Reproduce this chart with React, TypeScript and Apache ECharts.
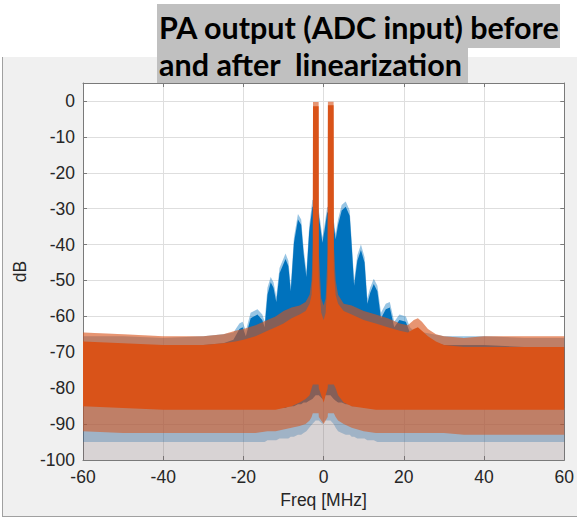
import React, { useEffect, useRef } from "react";
import * as echarts from "echarts";

// ---------- data ----------
const X_MIN = -60;
const X_MAX = 60;
const Y_MIN = -100;
const Y_MAX = 5;
const FLOOR = -100;

const TITLE_LINES = ["PA output (ADC input) before", "and after  linearization"];
const X_NAME = "Freq [MHz]";
const Y_NAME = "dB";

// "after linearization" trace (orange) envelopes
const ORANGE_F = [
  -60, -50, -40, -30, -25, -22, -20, -17, -14, -12,
  -10, -8, -6, -4.5, -3.5, -3.0, -2.7, -2.65, -1.25, -1.2,
  -0.6, 0, 0.5, 1.0, 1.07, 2.48, 2.55, 3.0, 3.6, 5,
  7, 10, 13, 16, 19, 21, 22.5, 23.5, 24.5, 26,
  28, 30, 35, 40, 50, 60,
];
const ORANGE_SPIKE_HI = [
  -64.5, -65, -65.5, -65.5, -65, -64, -63.5, -62.5, -61, -60,
  -58.5, -57.5, -57, -56, -54, -50, -40, -0.3, -0.3, -42,
  -55, -57, -55, -42, -0.2, -0.2, -40, -50, -54, -56.5,
  -57, -58.5, -59.5, -60.5, -62, -62.5, -61, -60.5, -61.5, -63.5,
  -65, -65.5, -66, -65.5, -65.5, -65.5,
];
const ORANGE_DENSE_HI = [
  -67, -67.5, -68, -68, -67.5, -67, -66.5, -65.5, -64, -63,
  -62, -60.5, -59.5, -58.5, -56.5, -54, -47, -1.5, -1.5, -49,
  -59, -61, -59, -49, -1.2, -1.2, -47, -54, -56.5, -58.5,
  -59.5, -61, -62, -63, -64, -64.5, -63.5, -63, -64, -65.5,
  -67, -68, -68.5, -68.5, -68.5, -68.5,
];
const ORANGE_DENSE_LO = [
  -85, -85.5, -86, -86, -86, -86, -86, -86, -86, -86,
  -85.5, -85, -84, -83, -82, -80, -79, -79, -79, -80,
  -82, -84, -82, -80, -79, -79, -79, -80, -82, -84,
  -85, -85.5, -86, -86, -86, -86, -86, -86, -86, -86,
  -86, -86, -86, -86, -86, -86,
];
const ORANGE_SPIKE_LO = [
  -92, -92.5, -92.5, -92.5, -92.5, -92.5, -92.5, -92.5, -92, -92,
  -91.5, -91, -90.5, -90, -89, -88, -87, -87, -87, -88,
  -89, -90, -89, -88, -87, -87, -87, -88, -89, -90,
  -91, -92, -92.5, -92.5, -92.5, -92.5, -92.5, -92.5, -92.5, -92.5,
  -92.5, -92.5, -93, -93, -93, -93,
];

// "before linearization" trace (blue) envelopes
const BLUE_F = [
  -60, -50, -40, -30, -25, -22.5, -21, -20.2, -19.4, -18.2,
  -16.5, -15.3, -14.7, -14, -13.2, -12.5, -11.8, -11, -9.5, -8.8,
  -8.2, -7.4, -6.4, -5.6, -5, -4.3, -3.6, -2.8, -2.0, -1.2,
  -0.3, 0.3, 0.9, 1.7, 2.5, 3.0, 3.6, 4.5, 5.5, 6.5,
  7.0, 7.6, 8.4, 9.3, 10.2, 10.9, 11.6, 12.5, 13.4, 14.3,
  15.5, 16.5, 17.6, 18.9, 20.5, 21.5, 22.5, 25, 30, 40,
  50, 60,
];
const BLUE_SPIKE_HI = [
  -65.5, -65.5, -66, -65.5, -65, -64.5, -62, -61.5, -64, -59,
  -58, -59.5, -61.5, -52, -49, -50.5, -54.5, -46.5, -42.5, -44.5,
  -51.5, -38, -31.5, -33, -41, -47.5, -35, -27.5, -28, -30.5,
  -38, -34, -29.5, -30, -33, -37, -33, -29, -28, -30.5,
  -39, -50, -43, -40, -43.5, -55, -52, -49.5, -51.5, -59,
  -56.5, -56, -61.5, -59.5, -60, -63, -64, -64.5, -65.5, -65.5,
  -66, -66,
];
const BLUE_DENSE_HI = [
  -68, -68, -68.5, -68, -67.5, -66.5, -63.5, -63, -65.5, -60.5,
  -59.5, -61, -63, -54, -50.5, -52, -56, -48, -44, -46,
  -53, -39.5, -33, -34.5, -42.5, -49, -36.5, -29.5, -29.5, -32,
  -39.5, -35.5, -31, -31.5, -34.5, -38.5, -34.5, -30.5, -29.5, -32,
  -40.5, -51.5, -44.5, -41.5, -45, -56.5, -53.5, -51, -53, -60.5,
  -58, -57.5, -63, -61, -61.5, -64.5, -65.5, -66.5, -68, -68,
  -68.5, -68.5,
];
const BLUE_DENSE_LO = [
  -84.5, -85, -85.5, -85.5, -85.5, -85.5, -85.5, -85.5, -85.5, -85.5,
  -85.5, -85.5, -85.5, -85.5, -85.5, -85.5, -85.5, -85.5, -85.5, -85,
  -85, -85, -84.5, -84.5, -84, -84, -83.5, -83, -82, -82,
  -83, -82, -82, -82, -83, -83.5, -84, -84, -84.5, -84.5,
  -85, -85, -85, -85, -85.5, -85.5, -85.5, -85.5, -85.5, -85.5,
  -85.5, -85.5, -85.5, -85.5, -85.5, -85.5, -85.5, -85.5, -85.5, -85.5,
  -85.5, -85.5,
];
const BLUE_SPIKE_LO = [
  -95, -95, -95, -95, -95, -95, -95, -95, -95, -95,
  -95, -95, -95, -94.5, -94.5, -94.5, -94.5, -94, -94, -94,
  -93.5, -93.5, -93, -93, -92.5, -92, -91, -90, -89, -89,
  -90, -89, -89, -89, -90, -91, -92, -92.5, -93, -93,
  -93.5, -93.5, -94, -94, -94, -94.5, -94.5, -94.5, -95, -95,
  -95, -95, -95, -95, -95, -95, -95, -95, -95, -95,
  -95, -95,
];

const BLUE = "#0072BD";
const ORANGE = "#D95319";
const AXIS_COLOR = "#7a7a7a";
const TEXT_COLOR = "#262626";
const GRID_COLOR = "#dedede";
const FONT = "Liberation Sans, Arial, sans-serif";

// A band between two envelopes, drawn as one polygon through the axis scales.
function bandSeries(
  id: string,
  freq: number[],
  lo: number[],
  hi: number[],
  color: string,
  opacity: number
) {
  const data = freq.map((f, i) => [f, lo[i], hi[i]]);
  return {
    id,
    type: "custom",
    data,
    encode: { x: 0, y: [1, 2] },
    clip: true,
    silent: true,
    renderItem: (params: any, api: any) => {
      if (params.dataIndex !== 0) return null;
      const top = data.map((d) => api.coord([d[0], d[2]]));
      const bottom = data.map((d) => api.coord([d[0], d[1]])).reverse();
      return {
        type: "polygon",
        shape: { points: top.concat(bottom) },
        style: { fill: color, opacity, stroke: null },
      };
    },
  };
}

export default function App() {
  const ref = useRef<HTMLDivElement>(null);

  useEffect(() => {
    if (!ref.current) return;
    const chart = echarts.init(ref.current, undefined, { renderer: "svg" });

    const floorB = BLUE_F.map(() => FLOOR);
    const floorO = ORANGE_F.map(() => FLOOR);

    const series: any[] = [
      bandSeries("blueFloor", BLUE_F, floorB, BLUE_SPIKE_HI, BLUE, 0.15),
      bandSeries("blueSpike", BLUE_F, BLUE_SPIKE_LO, BLUE_SPIKE_HI, BLUE, 0.3),
      bandSeries("blueDense", BLUE_F, BLUE_DENSE_LO, BLUE_DENSE_HI, BLUE, 1),
      bandSeries("orangeFloor", ORANGE_F, floorO, ORANGE_SPIKE_HI, ORANGE, 0.15),
      bandSeries("orangeSpike", ORANGE_F, ORANGE_SPIKE_LO, ORANGE_SPIKE_HI, ORANGE, 0.55),
      bandSeries("orangeDense", ORANGE_F, ORANGE_DENSE_LO, ORANGE_DENSE_HI, ORANGE, 1),
    ];

    const tickStyle = { show: true, inside: true, length: 4, lineStyle: { color: AXIS_COLOR } };
    const lineStyle = { show: true, onZero: false, lineStyle: { color: AXIS_COLOR, width: 1 } };

    chart.setOption({
      animation: false,
      backgroundColor: "#ffffff",
      grid: {
        left: 83,
        right: 10,
        top: 83,
        bottom: 60,
        show: true,
        backgroundColor: "#ffffff",
        borderWidth: 0,
      },
      xAxis: [
        {
          type: "value",
          min: X_MIN,
          max: X_MAX,
          interval: 20,
          position: "bottom",
          axisLine: lineStyle,
          axisTick: tickStyle,
          axisLabel: { color: TEXT_COLOR, fontSize: 17.5, fontFamily: FONT, margin: 8 },
          splitLine: { show: true, lineStyle: { color: GRID_COLOR, width: 1 } },
          name: X_NAME,
          nameLocation: "middle",
          nameGap: 30,
          nameTextStyle: { color: TEXT_COLOR, fontSize: 17.5, fontFamily: FONT },
        },
        {
          type: "value",
          min: X_MIN,
          max: X_MAX,
          interval: 20,
          position: "top",
          axisLine: lineStyle,
          axisTick: tickStyle,
          axisLabel: { show: false },
          splitLine: { show: false },
        },
      ],
      yAxis: [
        {
          type: "value",
          min: Y_MIN,
          max: Y_MAX,
          interval: 10,
          position: "left",
          axisLine: lineStyle,
          axisTick: tickStyle,
          axisLabel: {
            color: TEXT_COLOR,
            fontSize: 17.5,
            fontFamily: FONT,
            margin: 8,
            formatter: (v: number) => (v > 0 ? "" : String(v)),
          },
          splitLine: { show: true, lineStyle: { color: GRID_COLOR, width: 1 } },
          name: Y_NAME,
          nameLocation: "middle",
          nameGap: 40,
          nameTextStyle: { color: TEXT_COLOR, fontSize: 17.5, fontFamily: FONT },
        },
        {
          type: "value",
          min: Y_MIN,
          max: Y_MAX,
          interval: 10,
          position: "right",
          axisLine: lineStyle,
          axisTick: tickStyle,
          axisLabel: { show: false },
          splitLine: { show: false },
        },
      ],
      graphic: {
        elements: [
          {
            type: "rect",
            z: -100,
            shape: { x: 2, y: 57, width: 575, height: 459 },
            style: { fill: "#f0f0f0" },
            silent: true,
          },
          {
            type: "line",
            z: -99,
            shape: { x1: 2.5, y1: 57, x2: 2.5, y2: 516.5 },
            style: { stroke: "#a0a0a0", lineWidth: 1 },
            silent: true,
          },
          {
            type: "line",
            z: -99,
            shape: { x1: 2, y1: 516.5, x2: 577, y2: 516.5 },
            style: { stroke: "#a0a0a0", lineWidth: 1 },
            silent: true,
          },
          {
            type: "rect",
            z: 100,
            shape: { x: 157, y: 4, width: 403, height: 44 },
            style: { fill: "#c0c0c0" },
            silent: true,
          },
          {
            type: "rect",
            z: 100,
            shape: { x: 157, y: 48, width: 311, height: 35 },
            style: { fill: "#c0c0c0" },
            silent: true,
          },
          {
            type: "text",
            z: 101,
            x: 159,
            y: 27,
            style: {
              text: TITLE_LINES[0],
              font: "bold 30.5px Lato",
              fill: "#000000",
              verticalAlign: "middle",
            },
            silent: true,
          },
          {
            type: "text",
            z: 101,
            x: 159,
            y: 64,
            style: {
              text: TITLE_LINES[1],
              font: "bold 30.5px Lato",
              fill: "#000000",
              verticalAlign: "middle",
            },
            silent: true,
          },
        ],
      },
      series,
    });

    return () => {
      chart.dispose();
    };
  }, []);

  return (
    <div
      ref={ref}
      style={{ position: "fixed", left: 0, top: 0, width: 577, height: 520 }}
    />
  );
}
